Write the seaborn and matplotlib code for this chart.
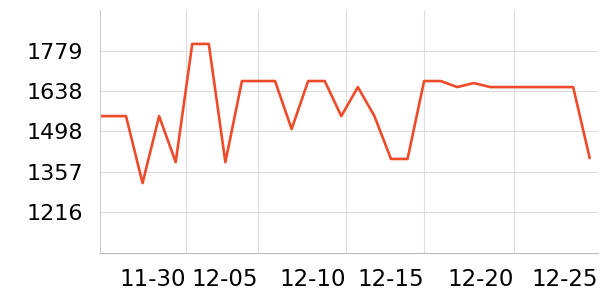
import matplotlib
matplotlib.use("Agg")
import matplotlib.pyplot as plt
import seaborn as sns
import pandas as pd

# data
values = [1551, 1551, 1551, 1318, 1551, 1391, 1802, 1802, 1391, 1673,
          1673, 1673, 1506, 1673, 1673, 1551, 1652, 1551, 1402, 1402,
          1673, 1673, 1652, 1666, 1652, 1652, 1652, 1652, 1652, 1652, 1405]
idx = list(range(len(values)))
x_tick_pos = [5.63, 9.98, 15.29, 20.0, 25.4, 30.5]
x_tick_labels = ["11-30", "12-05", "12-10", "12-15", "12-20", "12-25"]
y_ticks = [1216, 1357, 1498, 1638, 1779]

df = pd.DataFrame({"i": idx, "v": values})

sns.set_style("white")
plt.rcParams["font.family"] = ["DejaVu Sans"]

fig = plt.figure(figsize=(6, 3), dpi=100)
ax = fig.add_axes([100/600, 47/300, 498/600, 243/300])

sns.lineplot(data=df, x="i", y="v", ax=ax, color="#EE4B2B", linewidth=1.9)

ax.set_xlim(0.43, 30.5)
ax.set_ylim(1075, 1920)
ax.set_yticks(y_ticks)
ax.set_yticklabels([str(t) for t in y_ticks])
ax.set_xticks(x_tick_pos)
ax.set_xticklabels(x_tick_labels, ha="right")
ax.set_xlabel("")
ax.set_ylabel("")

ax.grid(True, color="#dddddd", linewidth=0.8)
ax.set_axisbelow(True)
for s in ["top", "right"]:
    ax.spines[s].set_visible(False)
ax.spines["left"].set_color("#cccccc")
ax.spines["bottom"].set_color("#bbbbbb")
ax.spines["left"].set_linewidth(0.8)
ax.spines["bottom"].set_linewidth(0.8)

ax.tick_params(axis="y", length=0, pad=12, labelsize=16, labelcolor="black")
ax.tick_params(axis="x", length=4, color="#bbbbbb", pad=7, labelsize=16.5, labelcolor="black")
ax.tick_params(axis="x", direction="out")

fig.savefig("out.png", dpi=100)
